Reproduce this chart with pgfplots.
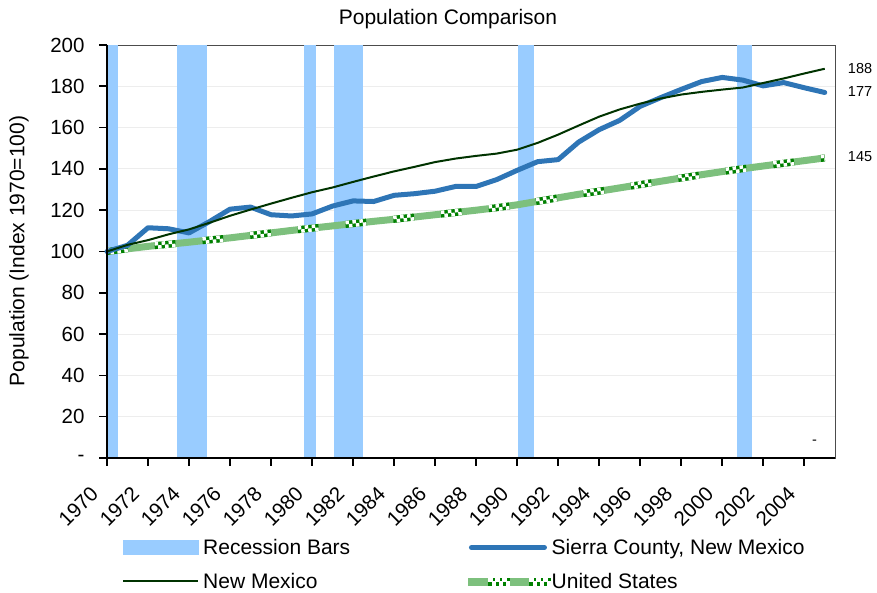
\documentclass[border=0pt]{standalone}
\usepackage{pgfplots}
\pgfplotsset{compat=1.18}
\usepackage{pgfplotstable}
\usepackage{fontspec}
\setmainfont{Liberation Sans}
\definecolor{recbar}{RGB}{153,204,255}
\definecolor{sierra}{RGB}{46,117,182}
\definecolor{nmgreen}{RGB}{0,51,0}
\definecolor{usdark}{RGB}{0,128,0}
\definecolor{uslight}{RGB}{125,192,125}

\pgfplotstableread{
year sierra nm us
1970 100.0 100.0 100.0
1971 103.0 103.2 101.3
1972 111.5 105.5 102.5
1973 111.0 108.3 103.5
1974 109.0 110.7 104.5
1975 114.5 113.9 105.6
1976 120.5 117.3 106.6
1977 121.5 120.3 107.8
1978 117.8 123.2 109.0
1979 117.2 126.0 110.2
1980 118.2 128.7 111.3
1981 122.0 131.0 112.4
1982 124.5 133.7 113.5
1983 124.2 136.3 114.6
1984 127.2 138.8 115.6
1985 128.0 141.0 116.7
1986 129.2 143.3 117.8
1987 131.5 145.0 118.9
1988 131.5 146.3 120.0
1989 134.8 147.4 121.2
1990 139.3 149.3 122.6
1991 143.5 152.6 124.3
1992 144.5 156.6 126.0
1993 153.0 161.0 127.7
1994 159.0 165.3 129.2
1995 163.5 168.8 130.8
1996 170.3 171.6 132.4
1997 174.5 174.1 134.0
1998 178.5 176.0 135.6
1999 182.3 177.3 137.2
2000 184.3 178.4 138.7
2001 183.0 179.4 140.1
2002 180.2 181.6 141.4
2003 181.8 183.8 142.7
2004 179.3 186.2 144.0
2005 177.0 188.5 145.3
}\data

\begin{document}
\begin{tikzpicture}
\useasboundingbox (0,0) rectangle (877pt,593pt);
\begin{axis}[
  at={(107pt,135pt)}, anchor=south west,
  scale only axis, width=728pt, height=413pt,
  xmin=1970, xmax=2005.5, ymin=0, ymax=200,
  clip=false,
  axis line style={draw=black!70, line width=0.8pt},
  xtick={1970,1972,...,2004},
  xticklabels={1970,1972,1974,1976,1978,1980,1982,1984,1986,1988,1990,1992,1994,1996,1998,2000,2002,2004},
  ytick={0,20,...,200},
  yticklabels={-,20,40,60,80,100,120,140,160,180,200},
  tick pos=left, tick align=outside, major tick length=8pt,
  tick style={black, line width=1.6pt},
  ymajorgrids, grid style={draw=black!7, line width=0.8pt},
  tick label style={font=\fontsize{20.5}{24}\selectfont},
  xticklabel style={xshift=-10pt, yshift=-22pt, rotate=45, anchor=east},
  yticklabel style={xshift=-11pt},
  legend columns=2,
  legend cell align=left,
  legend style={at={(rel axis cs:0,0)}, anchor=north west, xshift=15pt, yshift=-81pt,
    draw=none, fill=none, inner sep=0pt, row sep=17pt,
    font=\fontsize{21}{25}\selectfont,
    nodes={inner sep=0pt},
    /tikz/every odd column/.append style={column sep=1pt},
    /tikz/every even column/.append style={column sep=118pt}},
]
% legend entries
\addlegendimage{legend image code/.code={\fill[recbar] (0pt,-7pt) rectangle (75pt,7pt); \path[draw=none, fill=none] (79pt,0pt);}}
\addlegendentry{Recession Bars}
\addlegendimage{legend image code/.code={\draw[sierra, line width=5pt, line cap=round] (3pt,0pt) -- (76pt,0pt); \path[draw=none, fill=none] (0pt,0pt) -- (82pt,0pt);}}
\addlegendentry{Sierra County, New Mexico}
\addlegendimage{legend image code/.code={\draw[nmgreen, line width=2pt] (0pt,0pt) -- (75pt,0pt); \path[draw=none, fill=none] (79pt,0pt);}}
\addlegendentry{New Mexico}
\addlegendimage{legend image code/.code={
  \fill[uslight] (0pt,-3.5pt) rectangle (82pt,3.5pt);
  \foreach \s in {20,61} {
    \fill[usdark] ({\s*1pt},-3.5pt) rectangle ++(21pt,7pt);
    \foreach \k in {0,1,2} {
      \fill[white] ({(\s+7*\k)*1pt},0pt) rectangle ++(3.5pt,3.5pt);
      \fill[white] ({(\s+7*\k+3.5)*1pt},-3.5pt) rectangle ++(3.5pt,3.5pt);
    }
  }}}
\addlegendentry{United States}

% recession bars
\addplot[forget plot, fill=recbar, draw=none] coordinates {(1970,0) (1970,200) (1970.52,200) (1970.52,0)} -- cycle;
\addplot[forget plot, fill=recbar, draw=none] coordinates {(1973.42,0) (1973.42,200) (1974.87,200) (1974.87,0)} -- cycle;
\addplot[forget plot, fill=recbar, draw=none] coordinates {(1979.6,0) (1979.6,200) (1980.2,200) (1980.2,0)} -- cycle;
\addplot[forget plot, fill=recbar, draw=none] coordinates {(1981.07,0) (1981.07,200) (1982.49,200) (1982.49,0)} -- cycle;
\addplot[forget plot, fill=recbar, draw=none] coordinates {(1990.05,0) (1990.05,200) (1990.83,200) (1990.83,0)} -- cycle;
\addplot[forget plot, fill=recbar, draw=none] coordinates {(2000.73,0) (2000.73,200) (2001.46,200) (2001.46,0)} -- cycle;

% United States (patterned thick line)
\addplot[forget plot, uslight, line width=7pt] table[x=year, y=us] {\data};
\addplot[forget plot, usdark, line width=7pt, dash pattern=on 21pt off 27pt] table[x=year, y=us] {\data};
\addplot[forget plot, white, line width=3.5pt, yshift=1.75pt, dash pattern=on 3.5pt off 3.5pt on 3.5pt off 3.5pt on 3.5pt off 30.5pt] table[x=year, y=us] {\data};
\addplot[forget plot, white, line width=3.5pt, yshift=-1.75pt, dash pattern=on 0pt off 3.5pt on 3.5pt off 3.5pt on 3.5pt off 3.5pt on 3.5pt off 27pt] table[x=year, y=us] {\data};

% Sierra County
\addplot[forget plot, sierra, line width=5pt, line join=round, line cap=round] table[x=year, y=sierra] {\data};
% New Mexico
\addplot[forget plot, nmgreen, line width=2pt, line join=round] table[x=year, y=nm] {\data};

% heavy left and bottom axis lines
\draw[black, line width=2pt] (rel axis cs:0,1) -- (rel axis cs:0,0) -- (rel axis cs:1,0);

% data labels
\node[anchor=west, inner sep=0pt, font=\fontsize{14.5}{17}\selectfont] at (axis cs:2005,188.8) [xshift=23pt] {188};
\node[anchor=west, inner sep=0pt, font=\fontsize{14.5}{17}\selectfont] at (axis cs:2005,177.7) [xshift=23pt] {177};
\node[anchor=west, inner sep=0pt, font=\fontsize{14.5}{17}\selectfont] at (axis cs:2005,146.1) [xshift=23pt] {145};
\node[inner sep=0pt, font=\fontsize{14.5}{17}\selectfont] at (axis cs:2004.5,7.8) {-};
\end{axis}
\node[anchor=base, font=\fontsize{21}{25}\selectfont] at (448pt,568.5pt) {Population Comparison};
\node[rotate=90, font=\fontsize{21}{25}\selectfont] at (19pt,342pt) {Population (Index 1970=100)};
\end{tikzpicture}
\end{document}
